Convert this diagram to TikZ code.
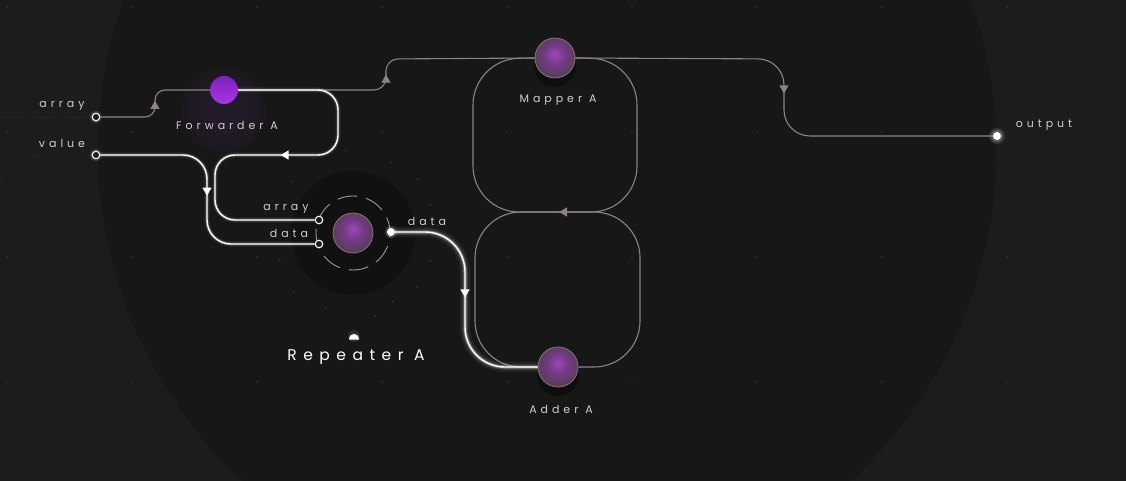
\documentclass[tikz,border=0pt]{standalone}
\usepackage{fontspec}
\newfontfamily\lblfont[LetterSpace=36]{Poppins}
\newfontfamily\bigfont[LetterSpace=42]{Poppins}
\usetikzlibrary{arrows.meta,decorations.markings,calc}
\definecolor{bgout}{HTML}{1C1C1C}
\definecolor{bgin}{HTML}{171717}
\definecolor{dotc}{HTML}{2D2D2D}
\definecolor{edgegray}{HTML}{8E8383}
\definecolor{lblc}{HTML}{D8CCC6}
\definecolor{sphc}{HTML}{9E48B8}
\definecolor{sphm}{HTML}{733A86}
\definecolor{sphe}{HTML}{4E4050}
\definecolor{sphb}{HTML}{8A736E}
\definecolor{fwdtop}{HTML}{7E22B8}
\definecolor{fwdbot}{HTML}{A835E6}
\definecolor{fglow}{HTML}{231A2A}
\definecolor{halo}{HTML}{111111}
\definecolor{portfill}{HTML}{1A1A1A}
\definecolor{ringc}{HTML}{9A9A9A}
\definecolor{spark}{HTML}{3A3A3A}
\pgfdeclareradialshading{sphere}{\pgfpoint{0bp}{5bp}}{color(0bp)=(sphc); color(13bp)=(sphm); color(29bp)=(sphe); color(50bp)=(sphe)}
\pgfdeclareradialshading{fwdglow}{\pgfpoint{0bp}{0bp}}{color(0bp)=(fglow); color(10bp)=(fglow); color(34bp)=(bgin); color(50bp)=(bgin)}
\begin{document}
\begin{tikzpicture}[x=1pt,y=-1pt,
  port/.style={circle, draw=white, fill=portfill, line width=1.1pt, minimum size=7.5pt, inner sep=0pt},
  portout/.style={circle, fill=white, minimum size=8pt, inner sep=0pt},
  sph/.style={circle, minimum size=40pt, inner sep=0pt, shade, shading=sphere, draw=sphb, line width=0.8pt},
  lbl/.style={text=lblc, font=\lblfont\fontsize{11pt}{13pt}\selectfont, inner sep=0pt},
  wline/.style={draw=white, line width=1.4pt},
  gline/.style={draw=edgegray, line width=1.1pt},
  glow/.style={preaction={draw=white, line width=5pt, opacity=0.08}, preaction={draw=white, line width=2.8pt, opacity=0.18}},
  bigglow/.style={preaction={draw=white, line width=10pt, opacity=0.06}, preaction={draw=white, line width=5.5pt, opacity=0.13}, preaction={draw=white, line width=3pt, opacity=0.3}},
  midarrow/.style={postaction={decorate, decoration={markings, mark=at position #1 with {\arrow{Triangle[width=9pt,length=8pt]}}}}},
]
\useasboundingbox (0,0) rectangle (1126,481);
\begin{scope}
\clip (0,0) rectangle (1126,481);
\fill[bgout] (0,0) rectangle (1126,481);
\fill[bgin] (547,150) circle (450pt);
\draw[dotc, dotted, line width=0.8pt] (547,150) circle (450pt);
\foreach \x in {7,132,257,382,507,632,757,882,1007,1132}
  \foreach \y in {7,132,257,382}
    \fill[dotc] (\x,\y) circle (1.2pt);
% faint dotted leads
\draw[dotc, dotted, line width=0.9pt] (0,117) -- (92,117);
\draw[dotc, dotted, line width=0.9pt] (92,155) -- (50,155) .. controls (25,155) and (8,165) .. (0,182);
% forwarder glow
\shade[shading=fwdglow] (224,110) circle (42pt);
% repeater halo
\fill[halo] (353,233) circle (62pt);
\foreach \a/\r in {20/82,40/84,62/80,95/83,118/85,140/80,160/83,200/78,225/84,250/80,285/86,300/79,320/84,340/82,5/85}
  \fill[spark] ($(353,233)+(\a:\r pt)$) circle (0.9pt);
\end{scope}

% nodes
\node[circle, minimum size=28pt, inner sep=0pt, top color=fwdtop, bottom color=fwdbot] (nF) at (224,90) {};
\fill[black, opacity=0.35] (555,66) circle (21pt);
\fill[black, opacity=0.35] (558,375) circle (21pt);
\node[sph] (nM) at (555,58) {};
\node[sph] (nA) at (558,367) {};
\node[sph] (nR) at (353,233) {};
\draw[ringc, line width=0.9pt, dash pattern=on 20pt off 9pt, dash phase=4pt] (nR.center) circle (37pt);

\fill[white, opacity=0.15] (96,117) circle (6pt);
\fill[white, opacity=0.15] (96,155) circle (6pt);
\fill[white, opacity=0.12] (997,136) circle (8pt);
\fill[white, opacity=0.2] (997,136) circle (6pt);
\fill[white, opacity=0.2] (391,232) circle (6pt);
\node[port] (pArr) at (96,117) {};
\node[port] (pVal) at (96,155) {};
\node[portout] (pOut) at (997,136) {};
\node[port] (rIa) at (319,220) {};
\node[port] (rId) at (319,244) {};
\node[portout] (rOd) at (391,232) {};

% gray edges
\draw[gline, rounded corners=10pt, midarrow=0.52] (pArr.east) -- (155,117) -- (155,90) -- (nF.west);
\draw[gline, rounded corners=12pt, midarrow=158pt] (nF.east) -- (386,90) -- (386,59) -- (nM.west);
\draw[gline, rounded corners=26pt, midarrow=232pt] (nM.east) -- (784,59) -- (784,136) -- (pOut.west);
\draw[gline, rounded corners=46pt, midarrow=258pt] (nA.east) -- (640,367) -- (640,212) -- (473,212) -- (473,59) -- (nM.west);
\draw[gline, rounded corners=46pt] (nM.east) -- (637,59) -- (637,212) -- (475,212) -- (475,367) -- (nA.west);

% white edges
\draw[wline, glow, rounded corners=20pt, midarrow=205pt] (nF.east) -- (338,90) -- (338,155) -- (215,155) -- (215,220) -- (rIa.west);
\draw[wline, glow, rounded corners=24pt, midarrow=137pt] (pVal.east) -- (207,155) -- (207,244) -- (rId.west);
\draw[wline, bigglow, rounded corners=40pt, midarrow=118pt] (rOd.east) -- (465,232) -- (465,367) -- (nA.west);

% labels
\node[lbl] (tArr) at (62,106) {array};
\node[lbl] (tVal) at (62,143) {value};
\node[lbl] (tF) at (227,125) {Forwarder A};
\node[lbl] (tM) at (558,100) {Mapper A};
\node[lbl] (tA) at (561,409) {Adder A};
\node[lbl] (tOut) at (1044,125) {output};
\node[lbl] (tRa) at (286,209) {array};
\node[lbl] (tRd) at (289,233) {data};
\node[lbl] (tRo) at (427,221) {data};
\fill[white, opacity=0.1] (354,336) circle (6pt);
\fill[white] (349,339.5) .. controls (349.5,332) and (358.5,332) .. (359,339.5) -- cycle;
\node[text=white, font=\bigfont\fontsize{15.5pt}{18pt}\selectfont, inner sep=0pt] (tR) at (356,357) {Repeater A};
\end{tikzpicture}
\end{document}
